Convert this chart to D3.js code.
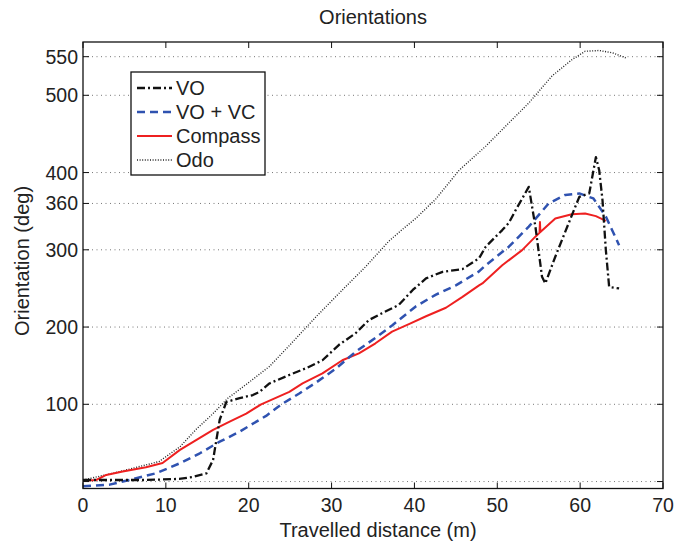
<!DOCTYPE html>
<html><head><meta charset="utf-8">
<script src="https://cdn.jsdelivr.net/npm/d3@7"></script>
<style>body{margin:0;background:#fff}svg{display:block;font-family:"Liberation Sans",Arial,sans-serif}</style>
</head><body><svg id="c" width="675" height="544"></svg>
<script>
const xTicks=[0,10,20,30,40,50,60,70];
const yTicks=[0,100,200,300,360,400,500,550];
const yTickLabels=["","100","200","300","360","400","500","550"];
const seriesNames=["VO","VO + VC","Compass","Odo"];
const voData=[[0,2],[3.6,2],[7.6,2],[11.6,3.4],[13.3,6],[14.9,10.7],[15.7,28],[16.1,54],[16.5,80],[17.3,103],[18.9,108],[20.5,112],[21.3,116],[22.5,127],[24.9,138],[26.9,146.6],[28.9,157],[30.9,177],[32.9,192],[34.5,209],[36.1,218],[38.1,228.5],[39.8,248],[41.4,263],[43.4,271.5],[45.8,275],[47.8,289],[48.6,304],[50.6,325.5],[51.4,335],[52.2,351],[53.8,381.5],[54.6,330],[55.4,265],[55.8,256.5],[57,291],[58.6,334],[59.9,368.6],[61.1,373],[61.9,420],[62.3,403],[62.7,364],[63.1,300],[63.5,252],[64.7,250]];
const vovcData=[[0,-6],[3.2,-4],[5.6,2],[8.8,10.7],[11.7,23.7],[14.1,36.6],[16.5,51.6],[18.9,64.6],[21.3,80],[22.1,85],[24.1,101],[26.1,114],[28.1,128],[30.5,146],[32.9,168],[35.3,186],[37.3,202],[40.2,227],[42.6,242],[45,254],[47.8,272],[48.6,280],[51.4,304],[53.8,330],[56.2,360],[58.2,371],[59.9,373],[61.6,366.5],[63.1,343],[64.7,306]];
const compassData=[[0,1],[1.6,2],[2.8,8.5],[4.8,13],[7.6,18.5],[9.6,24],[11.7,41],[13.7,54],[15.7,67],[17.7,77.5],[19.7,88],[21.5,100],[24.9,116],[26.5,127],[28.9,140],[31.3,157],[33.3,166],[35.3,179],[37.3,194],[39.4,204],[41.4,214],[43.8,225],[45.8,239],[47.8,254],[48.2,256.5],[50.6,280],[53,299.6],[54.6,317],[55.1,322],[55.15,336],[55.2,323],[57,340.6],[59,346],[60.6,347],[61.9,343.6],[63.1,337.5]];
const odoData=[[0,2],[3.6,10.7],[7.6,21.5],[9.2,26],[11.7,45],[13.7,68],[15.7,88],[17.5,108],[20.1,129],[22.5,149],[24.9,176],[28.1,213],[31.3,248],[34.1,278],[36.9,311],[38.5,326],[40.2,341],[42.6,366],[45.4,403],[48.6,434],[51,460],[53.8,490],[56.6,525],[59,546],[60.6,557],[62.3,558],[63.9,555],[65.5,548.5]];

const svg=d3.select("#c");
const L=83,R=663,T=42,B=488.5;
const x=d3.scaleLinear().domain([0,70]).range([L,R]);
const y=d3.scaleLinear().domain([-9,569]).range([B,T]);

// grid
svg.append("g").selectAll("line").data(yTicks).join("line")
 .attr("x1",L).attr("x2",R).attr("y1",d=>y(d)).attr("y2",d=>y(d))
 .attr("stroke","#777").attr("stroke-width",1).attr("stroke-dasharray","1,3.5");

const line=d3.line().x(d=>x(d[0])).y(d=>y(d[1]));
const styles=[
 {data:voData,color:"#111",w:2.3,dash:"8,3,2,3"},
 {data:vovcData,color:"#2f52b0",w:2.5,dash:"8,5"},
 {data:compassData,color:"#ee2020",w:2,dash:null},
 {data:odoData,color:"#222",w:1.4,dash:"1,1.6"}
];
[3,2,1,0].forEach(i=>{const s=styles[i];
 svg.append("path").datum(s.data).attr("d",line).attr("fill","none")
 .attr("stroke",s.color).attr("stroke-width",s.w).attr("stroke-dasharray",s.dash)
 .attr("stroke-linejoin","round");});

// axes box
svg.append("rect").attr("x",L).attr("y",T).attr("width",R-L).attr("height",B-T)
 .attr("fill","none").attr("stroke","#111").attr("stroke-width",1.3);

const ax=svg.append("g").attr("stroke","#111").attr("stroke-width",1);
xTicks.forEach(t=>{ax.append("line").attr("x1",x(t)).attr("x2",x(t)).attr("y1",B).attr("y2",B-6);
 ax.append("line").attr("x1",x(t)).attr("x2",x(t)).attr("y1",T).attr("y2",T+6);});
yTicks.forEach(t=>{ax.append("line").attr("x1",L).attr("x2",L+6).attr("y1",y(t)).attr("y2",y(t));
 ax.append("line").attr("x1",R).attr("x2",R-6).attr("y1",y(t)).attr("y2",y(t));});

const tl=svg.append("g").attr("font-size",19.5).attr("fill","#222");
xTicks.forEach(t=>tl.append("text").attr("x",x(t)).attr("y",512).attr("text-anchor","middle").text(t));
yTicks.forEach((t,i)=>tl.append("text").attr("x",78).attr("y",y(t)+7).attr("text-anchor","end").text(yTickLabels[i]));

svg.append("text").attr("x",373).attr("y",24).attr("text-anchor","middle").attr("font-size",20).attr("fill","#222").text("Orientations");
svg.append("text").attr("x",378).attr("y",537).attr("text-anchor","middle").attr("font-size",20).attr("fill","#222").text("Travelled distance (m)");
svg.append("text").attr("transform","translate(29,261) rotate(-90)").attr("text-anchor","middle").attr("font-size",20).attr("fill","#222").text("Orientation (deg)");

// legend
const lg=svg.append("g");
lg.append("rect").attr("x",131).attr("y",72).attr("width",134).attr("height",103).attr("fill","#fff").attr("stroke","#111").attr("stroke-width",1.3);
seriesNames.forEach((n,i)=>{const s=styles[i];const yy=88+i*24;
 lg.append("line").attr("x1",137).attr("x2",172).attr("y1",yy).attr("y2",yy).attr("stroke",s.color).attr("stroke-width",s.w).attr("stroke-dasharray",s.dash);
 lg.append("text").attr("x",176).attr("y",yy+7).attr("font-size",20).attr("fill","#222").text(n);});
</script></body></html>
